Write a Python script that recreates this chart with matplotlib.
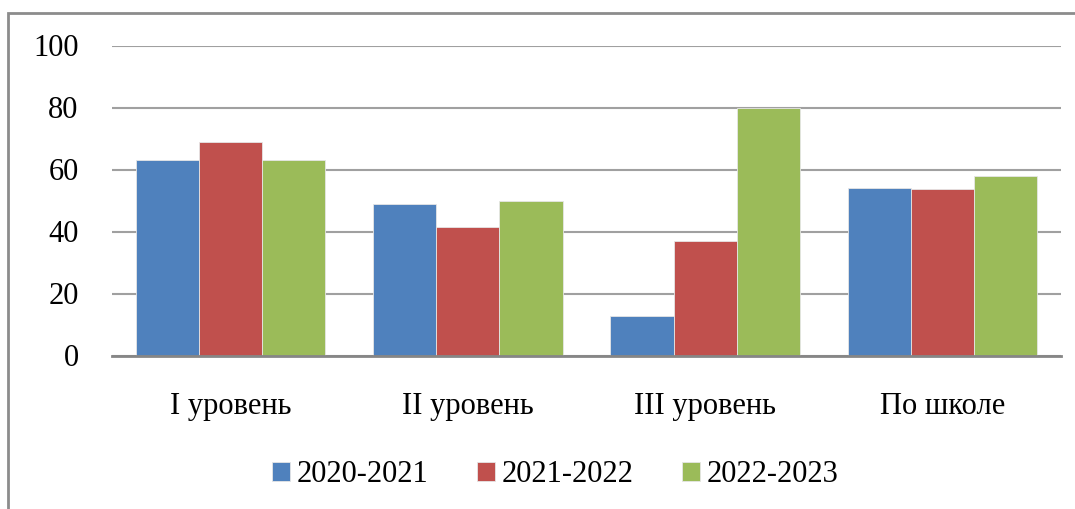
import numpy as np
import matplotlib
matplotlib.use("Agg")
import matplotlib.pyplot as plt
from matplotlib.patches import Rectangle

plt.rcParams["font.family"] = ["Liberation Serif", "DejaVu Serif"]

# Data
categories = ["I уровень", "II уровень", "III уровень", "По школе"]
years = ["2020-2021", "2021-2022", "2022-2023"]
vals_2020 = [63, 49, 12.6, 54]
vals_2021 = [69, 41.5, 37, 53.6]
vals_2022 = [63, 50, 80, 58]
colors = ["#4F81BD", "#C0504D", "#9BBB59"]
yticks = [0, 20, 40, 60, 80, 100]

fig = plt.figure(figsize=(10.75, 5.09), dpi=100)

# outer chart border
fig.patches.append(Rectangle((8 / 1075, -0.05), 1.2, 1 - 13 / 509 + 0.05,
                             transform=fig.transFigure, fill=False,
                             edgecolor="#8c8c8c", linewidth=2))

ax = fig.add_axes([112 / 1075, 1 - 355.5 / 509, 949 / 1075, 310 / 509])

x = np.arange(len(categories))
width = 0.2663
series = [vals_2020, vals_2021, vals_2022]
for i, (vals, c, lab) in enumerate(zip(series, colors, years)):
    ax.bar(x + (i - 1) * width, vals, width, color=c, label=lab,
           edgecolor="#e6e6e6", linewidth=0.6, zorder=3)

ax.set_xlim(-0.5, len(categories) - 0.5)
ax.set_ylim(0, 100)
ax.set_yticks(yticks)
ax.yaxis.grid(True, color="#a0a0a0", linewidth=1.5, zorder=0)
ax.set_axisbelow(True)
for s in ["left", "right", "top"]:
    ax.spines[s].set_visible(False)
ax.spines["bottom"].set_color("#868686")
ax.spines["bottom"].set_linewidth(2)
ax.spines["bottom"].set_zorder(4)
ax.tick_params(axis="y", length=0, pad=24, labelsize=22)
ax.tick_params(axis="x", length=0, pad=26, labelsize=22)
ax.set_xticks(x)
ax.set_xticklabels(categories)

ax.legend(loc="center", bbox_to_anchor=(555 / 1075, 1 - 475 / 509),
          bbox_transform=fig.transFigure, ncol=3, frameon=False,
          fontsize=22, handlelength=0.6, handleheight=0.6,
          handletextpad=0.2, columnspacing=1.6)

fig.savefig("out.png", dpi=100)
